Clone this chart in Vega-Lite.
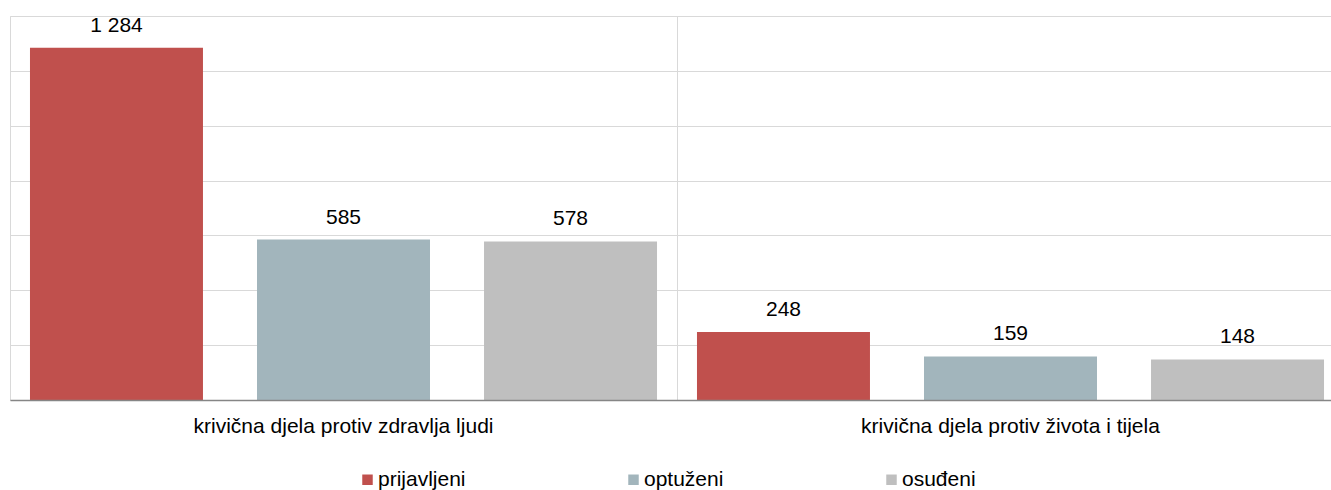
{
  "$schema": "https://vega.github.io/schema/vega-lite/v6.json",
  "width": 1321,
  "height": 384,
  "autosize": {"type": "none"},
  "padding": {"left": 10, "top": 16, "right": 0, "bottom": 90},
  "config": {
    "view": {"stroke": null},
    "font": "Liberation Sans",
    "locale": {"number": {"decimal": ",", "thousands": " ", "grouping": [3], "currency": ["", ""]}}
  },
  "data": {
    "values": [
      {"kategorija": "krivična djela protiv zdravlja ljudi", "vrsta": "prijavljeni", "broj": 1284},
      {"kategorija": "krivična djela protiv zdravlja ljudi", "vrsta": "optuženi", "broj": 585},
      {"kategorija": "krivična djela protiv zdravlja ljudi", "vrsta": "osuđeni", "broj": 578},
      {"kategorija": "krivična djela protiv života i tijela", "vrsta": "prijavljeni", "broj": 248},
      {"kategorija": "krivična djela protiv života i tijela", "vrsta": "optuženi", "broj": 159},
      {"kategorija": "krivična djela protiv života i tijela", "vrsta": "osuđeni", "broj": 148}
    ]
  },
  "encoding": {
    "x": {
      "field": "kategorija",
      "type": "nominal",
      "sort": ["krivična djela protiv zdravlja ljudi", "krivična djela protiv života i tijela"],
      "scale": {"range": [0, 1334], "paddingInner": 0, "paddingOuter": 0},
      "axis": {
        "title": null,
        "orient": "bottom",
        "bandPosition": 0,
        "grid": true,
        "gridColor": "#d9d9d9",
        "gridWidth": 1,
        "ticks": false,
        "tickSize": 0,
        "domain": true,
        "domainColor": "#868686",
        "domainWidth": 1.5,
        "labelFontSize": 21,
        "labelColor": "#000000",
        "labelPadding": 15,
        "labelAngle": 0,
        "labelLimit": 0,
        "zindex": 1
      }
    },
    "xOffset": {
      "field": "vrsta",
      "type": "nominal",
      "sort": ["prijavljeni", "optuženi", "osuđeni"],
      "scale": {"paddingInner": 0.238, "paddingOuter": 0.088}
    },
    "y": {
      "field": "broj",
      "type": "quantitative",
      "scale": {"domain": [0, 1400], "nice": false},
      "axis": {
        "title": null,
        "values": [0, 200, 400, 600, 800, 1000, 1200, 1400],
        "grid": true,
        "gridColor": "#d9d9d9",
        "ticks": false,
        "labels": false,
        "domain": true,
        "domainColor": "#d9d9d9"
      }
    }
  },
  "layer": [
    {
      "mark": {"type": "bar"},
      "encoding": {
        "color": {
          "field": "vrsta",
          "type": "nominal",
          "scale": {"domain": ["prijavljeni", "optuženi", "osuđeni"], "range": ["#C0504D", "#A2B5BC", "#BFBFBF"]},
          "legend": {
            "title": null,
            "orient": "none",
            "legendX": 347,
            "legendY": 453,
            "direction": "horizontal",
            "symbolType": "square",
            "symbolSize": 110,
            "symbolStrokeWidth": 0,
            "labelFontSize": 21,
            "labelColor": "#000000",
            "labelOffset": 0,
            "columnPadding": 157,
            "padding": 0,
            "labelLimit": 0
          }
        }
      }
    },
    {
      "mark": {"type": "text", "baseline": "alphabetic", "dy": -16, "fontSize": 21, "color": "#000000"},
      "encoding": {
        "text": {"field": "broj", "type": "quantitative", "format": ",d"}
      }
    }
  ]
}
